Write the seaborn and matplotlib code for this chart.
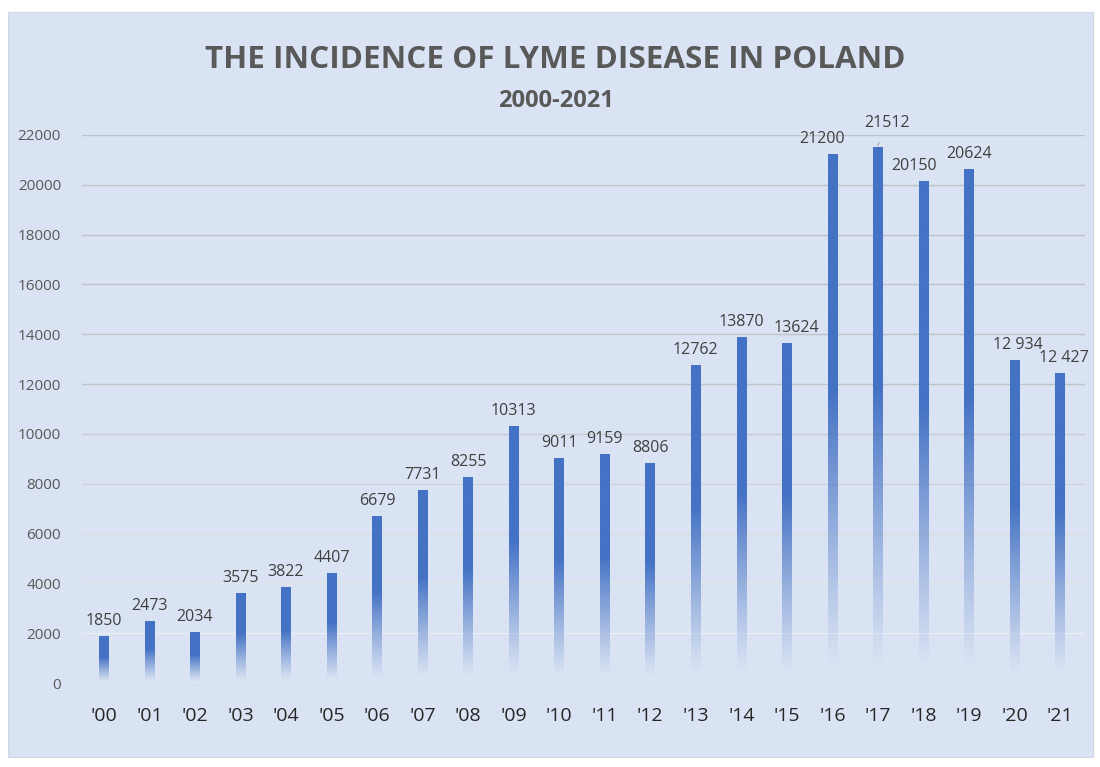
import matplotlib
matplotlib.use("Agg")
import matplotlib.pyplot as plt
import matplotlib.patches as mpatches
import seaborn as sns
import pandas as pd
import numpy as np

sns.set_theme(style="white")
plt.rcParams['font.family'] = ['Open Sans', 'DejaVu Sans']

# data
years = ["'00", "'01", "'02", "'03", "'04", "'05", "'06", "'07", "'08", "'09", "'10",
         "'11", "'12", "'13", "'14", "'15", "'16", "'17", "'18", "'19", "'20", "'21"]
cases = [1850, 2473, 2034, 3575, 3822, 4407, 6679, 7731, 8255, 10313, 9011,
         9159, 8806, 12762, 13870, 13624, 21200, 21512, 20150, 20624, 12934, 12427]
labels = ["1850", "2473", "2034", "3575", "3822", "4407", "6679", "7731", "8255", "10313", "9011",
          "9159", "8806", "12762", "13870", "13624", "21200", "21512", "20150", "20624", "12 934", "12 427"]
yticks = list(range(0, 22001, 2000))

df = pd.DataFrame({"year": years, "cases": cases})

fig = plt.figure(figsize=(11, 7.67), dpi=100)
fig.patch.set_facecolor("white")
# light blue panel behind everything
fig.patches.append(mpatches.Rectangle((8 / 1100, 10 / 767), 1085 / 1100, 745 / 767,
                                      transform=fig.transFigure, facecolor="#dae3f3",
                                      edgecolor="#d0d8e6", lw=0.8, zorder=-1))
ax = fig.add_axes([0.0745, 0.1095, 0.912, 0.7145])
ax.set_facecolor("none")

sns.barplot(data=df, x="year", y="cases", color="#4472c4", width=0.21, ax=ax, zorder=3)

# gradient fill: solid blue at top, fading out toward the baseline
top_rgb = np.array(matplotlib.colors.to_rgb("#4472c4"))
n = 300
f = np.linspace(1, 0, n)  # row 0 = top of bar
alpha = np.clip((f - 0.03) / 0.52, 0, 1) ** 1.1
rgba = np.zeros((n, 1, 4))
rgba[:, 0, :3] = top_rgb
rgba[:, 0, 3] = alpha
for p in ax.patches:
    x0, w, h = p.get_x(), p.get_width(), p.get_height()
    ax.imshow(rgba, extent=(x0, x0 + w, 0, h), aspect="auto", zorder=3, interpolation="bilinear")
    p.set_visible(False)

# data labels
dx = {15: 0.2, 16: -0.22, 18: -0.2, 20: 0.08, 21: 0.08}
for i, (v, t) in enumerate(zip(cases, labels)):
    if i == 17:
        ax.annotate(t, xy=(i, v + 80), xytext=(i + 0.2, v + 950), ha="center", va="center",
                    fontsize=11.5, color="#404040",
                    arrowprops=dict(arrowstyle="-", color="#a6a6a6", lw=0.8, shrinkA=6, shrinkB=0),
                    annotation_clip=False, zorder=5)
    else:
        ax.text(i + dx.get(i, 0), v + 300, t, ha="center", va="bottom",
                fontsize=11.5, color="#404040", zorder=5, clip_on=False)

ax.set_xlim(-0.48, 21.55)
ax.set_ylim(0, 22000)
ax.set_yticks(yticks)
ax.set_yticklabels([str(t) for t in yticks])
ax.yaxis.grid(True, lw=1.0)
ax.set_axisbelow(True)
gl = ax.yaxis.get_gridlines()
c_top = np.array(matplotlib.colors.to_rgb("#bfc3ca"))
c_bot = np.array(matplotlib.colors.to_rgb("#f2f5fb"))
for k, line in enumerate(gl):
    t = min(1, k / 6)
    line.set_color(tuple(c_bot * (1 - t) + c_top * t))

ax.tick_params(axis="y", length=0, pad=15, labelsize=11, labelcolor="#595959")
ax.tick_params(axis="x", length=0, pad=17, labelsize=14, labelcolor="#262626")
ax.set_xlabel("")
ax.set_ylabel("")
sns.despine(ax=ax, left=True, bottom=True)

fig.text(0.505, 0.922, "THE INCIDENCE OF LYME DISEASE IN POLAND", ha="center", va="center",
         fontsize=22.6, fontweight="bold", color="#595959")
fig.text(0.505, 0.868, "2000-2021", ha="center", va="center",
         fontsize=17, fontweight="bold", color="#595959")

fig.savefig("out.png", dpi=100, facecolor=fig.get_facecolor())
